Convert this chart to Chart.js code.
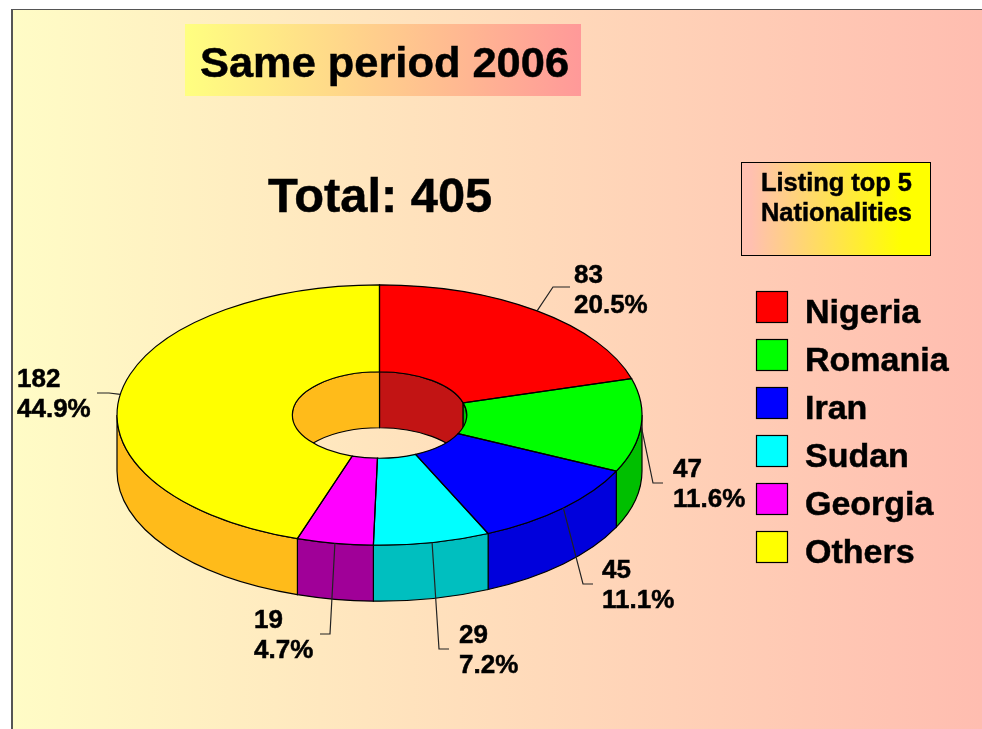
<!DOCTYPE html>
<html>
<head>
<meta charset="utf-8">
<title>Same period 2006</title>
<style>
    html, body { margin: 0; padding: 0; width: 982px; height: 729px; overflow: hidden; background: #fff; }
    .slide { position: absolute; left: 11px; top: 9px; width: 971px; height: 720px; box-sizing: border-box;
        border-left: 2px solid #555; border-top: 1px solid #555;
        background: linear-gradient(to right, #fffcc6, #ffbdb0); }
    .title-box { position: absolute; left: 185px; top: 24px; width: 396px; height: 72px;
        background: linear-gradient(to right, #ffff80, #ff9999); }
    .note-box { position: absolute; left: 741px; top: 162px; width: 190px; height: 94px; box-sizing: border-box;
        border: 1px solid #000; background: linear-gradient(to right, #ffc0b0 5%, #ffff00 85%); }
    canvas { position: absolute; left: 0; top: 0; }
</style>
</head>
<body>
<div class="slide"></div>
<div class="title-box"></div>
<div class="note-box"></div>
<canvas id="nationalityChart" width="982" height="729"></canvas>

<script src="https://cdn.jsdelivr.net/npm/chart.js@4/dist/chart.umd.min.js"></script>
<script>
    // Chart data
    const categories = ['Nigeria', 'Romania', 'Iran', 'Sudan', 'Georgia', 'Others'];
    const counts = [83, 47, 45, 29, 19, 182];
    const percentLabels = ['20.5%', '11.6%', '11.1%', '7.2%', '4.7%', '44.9%'];
    const titleText = 'Same period 2006';
    const totalText = 'Total: 405';
    const noteLines = ['Listing top 5', 'Nationalities'];

    // Colours
    const topColors = ['#ff0000', '#00ff00', '#0000ff', '#00ffff', '#ff00ff', '#ffff00'];
    const wallColors = ['#c21414', '#00bf00', '#0000dc', '#00bfbf', '#a00098', '#ffbb1a'];

    // Fake 3D settings
    const squash = 0.496;
    const depth = 56;

    // Where each slice label goes: elbow point, end of leader, text position
    const labelLayout = [
        { elbow: [553, 287], end: [570, 287], text: [574, 283] },
        { elbow: [653, 483], end: [663, 483], text: [673, 477] },
        { elbow: [583, 584], end: [593, 584], text: [602, 578] },
        { elbow: [439, 649], end: [449, 649], text: [459, 643] },
        { elbow: [330, 634], end: [320, 634], text: [254, 628] },
        { elbow: [109, 393], end: [97, 393], text: [17, 387] }
    ];

    function boldFont(size) {
        return 'bold ' + size + 'px "Liberation Sans", Arial, sans-serif';
    }

    // Reference text is a bit heavier than plain Liberation bold
    function heavyText(ctx, text, x, y) {
        ctx.fillText(text, x, y);
        ctx.lineWidth = 0.5;
        ctx.strokeStyle = '#000';
        ctx.strokeText(text, x, y);
    }

    function wallPath(ctx, x, y, rx, ry, from, to) {
        ctx.beginPath();
        ctx.ellipse(x, y, rx, ry, 0, from, to);
        ctx.ellipse(x, y + depth, rx, ry, 0, to, from, true);
        ctx.closePath();
    }

    const pieDepth = {
        id: 'pieDepth',
        // Side walls go under the slices
        beforeDatasetDraw(chart) {
            const ctx = chart.ctx;
            const arcs = chart.getDatasetMeta(0).data;

            ctx.save();
            ctx.lineWidth = 1.2;
            ctx.strokeStyle = '#000';

            arcs.forEach((arc, i) => {
                const p = arc.getProps(['x', 'y', 'startAngle', 'endAngle', 'innerRadius', 'outerRadius']);
                const rx = p.innerRadius;
                const ry = rx * squash;

                // Back of the hole
                [[-Math.PI, 0], [Math.PI, Math.PI * 2]].forEach(range => {
                    const from = Math.max(p.startAngle, range[0]);
                    const to = Math.min(p.endAngle, range[1]);
                    if (from < to) {
                        wallPath(ctx, p.x, p.y, rx, ry, from, to);
                        ctx.fillStyle = wallColors[i];
                        ctx.fill();
                        ctx.stroke();
                    }
                });
            });

            arcs.forEach((arc, i) => {
                const p = arc.getProps(['x', 'y', 'startAngle', 'endAngle', 'innerRadius', 'outerRadius']);
                const from = Math.max(p.startAngle, 0);
                const to = Math.min(p.endAngle, Math.PI);

                // Front of the ring
                if (from < to) {
                    wallPath(ctx, p.x, p.y, p.outerRadius, p.outerRadius * squash, from, to);
                    ctx.fillStyle = wallColors[i];
                    ctx.fill();
                    ctx.stroke();
                }
            });
            ctx.restore();

            // Flatten the doughnut the library draws
            const cy = arcs[0].y;
            ctx.save();
            ctx.translate(0, cy);
            ctx.scale(1, squash);
            ctx.translate(0, -cy);
        },
        afterDatasetDraw(chart) {
            const ctx = chart.ctx;
            ctx.restore();

            ctx.save();
            ctx.lineWidth = 1.2;
            ctx.strokeStyle = '#000';
            chart.getDatasetMeta(0).data.forEach(arc => {
                const p = arc.getProps(['x', 'y', 'startAngle', 'endAngle', 'innerRadius', 'outerRadius']);
                ctx.beginPath();
                ctx.ellipse(p.x, p.y, p.outerRadius, p.outerRadius * squash, 0, p.startAngle, p.endAngle);
                ctx.ellipse(p.x, p.y, p.innerRadius, p.innerRadius * squash, 0, p.endAngle, p.startAngle, true);
                ctx.closePath();
                ctx.stroke();
            });
            ctx.restore();
        },
        // Leaders and all the text
        afterDraw(chart) {
            const ctx = chart.ctx;

            ctx.save();
            ctx.fillStyle = '#000';
            ctx.textBaseline = 'alphabetic';

            chart.getDatasetMeta(0).data.forEach((arc, i) => {
                const p = arc.getProps(['x', 'y', 'startAngle', 'endAngle', 'outerRadius']);
                const mid = (p.startAngle + p.endAngle) / 2;
                const layout = labelLayout[i];

                ctx.beginPath();
                ctx.moveTo(p.x + p.outerRadius * Math.cos(mid), p.y + p.outerRadius * squash * Math.sin(mid));
                ctx.lineTo(layout.elbow[0], layout.elbow[1]);
                ctx.lineTo(layout.end[0], layout.end[1]);
                ctx.lineWidth = 1.2;
                ctx.strokeStyle = '#222';
                ctx.stroke();

                ctx.font = boldFont(26);
                heavyText(ctx, String(counts[i]), layout.text[0], layout.text[1]);
                heavyText(ctx, percentLabels[i], layout.text[0], layout.text[1] + 30);
            });

            ctx.font = boldFont(43.4);
            heavyText(ctx, titleText, 200, 77);
            ctx.font = boldFont(48.8);
            heavyText(ctx, totalText, 268, 212);
            ctx.font = boldFont(25.4);
            heavyText(ctx, noteLines[0], 761, 191);
            heavyText(ctx, noteLines[1], 761, 221);

            // Legend
            categories.forEach((name, i) => {
                const top = 291 + i * 48;
                ctx.fillStyle = topColors[i];
                ctx.fillRect(756, top, 32, 32);
                ctx.lineWidth = 1.2;
                ctx.strokeStyle = '#000';
                ctx.strokeRect(756.5, top + 0.5, 31, 31);
                ctx.fillStyle = '#000';
                ctx.font = boldFont(34);
                heavyText(ctx, name, 805, top + 32);
            });
            ctx.restore();
        }
    };

    // Draw Chart
    new Chart(document.getElementById('nationalityChart'), {
        type: 'doughnut',
        data: {
            labels: categories,
            datasets: [{
                data: counts,
                backgroundColor: topColors,
                borderWidth: 0
            }]
        },
        options: {
            responsive: false,
            animation: false,
            radius: 262.5,
            cutout: '33.2%',
            layout: {
                padding: { top: 101, right: 223 }
            },
            plugins: {
                legend: { display: false },
                title: { display: false },
                tooltip: { enabled: false }
            }
        },
        plugins: [pieDepth]
    });
</script>
</body>
</html>
